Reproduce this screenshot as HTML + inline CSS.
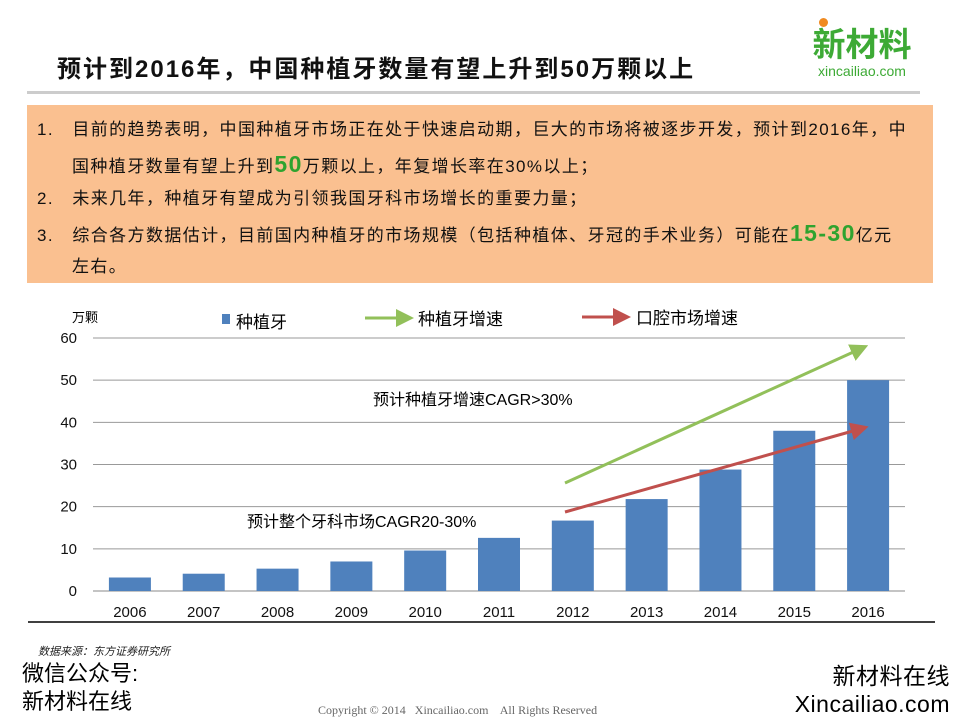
<!DOCTYPE html>
<html><head><meta charset="utf-8"><style>
body{margin:0;width:960px;height:720px;background:#fff;position:relative;overflow:hidden;font-family:"Liberation Sans","Noto Sans CJK SC",sans-serif}
.abs{position:absolute}
#box{left:27px;top:105px;width:906px;height:178px;background:#FAC090;font-size:17px;letter-spacing:1.4px;color:#111;line-height:34px;white-space:nowrap}
#box div{position:absolute;left:10px}
.g{color:#2FA32F;font-weight:bold;font-size:23px}
</style></head><body>
<div class="abs" style="left:57px;top:49px;font-size:24px;letter-spacing:2px;font-weight:bold;color:#111;white-space:nowrap">预计到2016年，中国种植牙数量有望上升到50万颗以上</div>
<div class="abs" style="left:803px;top:18px;width:118px;text-align:center">
<div style="width:9px;height:9px;border-radius:50%;background:#F08A20;margin-left:16px"></div>
<div style="font-size:33px;font-weight:bold;color:#3DAA35;line-height:36px">新材料</div>
<div style="font-size:14px;color:#3DAA35;line-height:16px">xincailiao.com</div></div>
<div class="abs" style="left:27px;top:91px;width:893px;height:3px;background:#ccc"></div>
<div id="box" class="abs">
<div style="top:8px">1.&nbsp;&nbsp; 目前的趋势表明，中国种植牙市场正在处于快速启动期，巨大的市场将被逐步开发，预计到2016年，中</div>
<div style="top:42px;left:45px">国种植牙数量有望上升到<span class="g">50</span>万颗以上，年复增长率在30%以上；</div>
<div style="top:77px">2.&nbsp;&nbsp; 未来几年，种植牙有望成为引领我国牙科市场增长的重要力量；</div>
<div style="top:111px">3.&nbsp;&nbsp; 综合各方数据估计，目前国内种植牙的市场规模（包括种植体、牙冠的手术业务）可能在<span class="g">15-30</span>亿元</div>
<div style="top:145px;left:45px">左右。</div>
</div>
<svg class="abs" style="left:0;top:0" width="960" height="720">
<defs>
<marker id="ag" markerWidth="6" markerHeight="6" refX="3" refY="3" orient="auto"><path d="M0,0L6,3L0,6z" fill="#92C05A"/></marker>
<marker id="ar" markerWidth="6" markerHeight="6" refX="3" refY="3" orient="auto"><path d="M0,0L6,3L0,6z" fill="#C0504D"/></marker>
</defs>
<g id="grid"></g><g id="bars"></g><g id="labels" font-size="15" fill="#111"></g>
<text x="72" y="322" font-size="13">万颗</text>
<rect x="222" y="314" width="8" height="10" fill="#4F81BD"/>
<text x="236" y="328" font-size="17">种植牙</text>
<line x1="365" y1="318" x2="405" y2="318" stroke="#92C05A" stroke-width="3" marker-end="url(#ag)"/>
<text x="418" y="325" font-size="17">种植牙增速</text>
<line x1="582" y1="317" x2="622" y2="317" stroke="#C0504D" stroke-width="3" marker-end="url(#ar)"/>
<text x="636" y="324" font-size="17">口腔市场增速</text>
<line x1="565" y1="483" x2="860" y2="349" stroke="#92C05A" stroke-width="3" marker-end="url(#ag)"/>
<line x1="565" y1="512" x2="860" y2="429" stroke="#C0504D" stroke-width="3" marker-end="url(#ar)"/>
<text x="373" y="405" font-size="16">预计种植牙增速CAGR&gt;30%</text>
<text x="247" y="527" font-size="16">预计整个牙科市场CAGR20-30%</text>
<line x1="28" y1="622" x2="935" y2="622" stroke="#000" stroke-width="1.5"/>
</svg>
<div class="abs" style="left:38px;top:643px;font-size:11px;font-style:italic;color:#222">数据来源：东方证券研究所</div>
<div class="abs" style="left:22px;top:660px;font-size:22px;line-height:28px;color:#000">微信公众号:<br>新材料在线</div>
<div class="abs" style="left:318px;top:703px;font-size:12px;color:#666;font-family:'Liberation Serif',serif">Copyright © 2014&nbsp;&nbsp; Xincailiao.com&nbsp;&nbsp;&nbsp; All Rights Reserved</div>
<div class="abs" style="right:10px;top:662px;font-size:23px;line-height:28px;color:#000;text-align:right;letter-spacing:0.5px">新材料在线<br>Xincailiao.com</div>
<script>
const categories=["2006","2007","2008","2009","2010","2011","2012","2013","2014","2015","2016"];
const values=[3.2,4.1,5.3,7,9.6,12.6,16.7,21.8,28.8,38,50];
const yTicks=[0,10,20,30,40,50,60];
const NS="http://www.w3.org/2000/svg";
const y0=591,y60=338,xL=93,xR=905;
const ys=v=>y0-(y0-y60)*v/60;
const step=(xR-xL)/categories.length;
const xs=i=>xL+step*(i+0.5);
const grid=document.getElementById('grid'),bars=document.getElementById('bars'),lab=document.getElementById('labels');
yTicks.forEach(t=>{
 const l=document.createElementNS(NS,'line');
 l.setAttribute('x1',xL);l.setAttribute('x2',xR);l.setAttribute('y1',ys(t));l.setAttribute('y2',ys(t));
 l.setAttribute('stroke',t===0?'#888':'#999');l.setAttribute('stroke-width','1');
 
 
 grid.appendChild(l);
 const tx=document.createElementNS(NS,'text');
 tx.setAttribute('x',77);tx.setAttribute('y',ys(t)+5);tx.setAttribute('text-anchor','end');tx.textContent=t;
 
 
 lab.appendChild(tx);
});
values.forEach((v,i)=>{
 const r=document.createElementNS(NS,'rect');
 r.setAttribute('x',xs(i)-21);r.setAttribute('width',42);r.setAttribute('y',ys(v));r.setAttribute('height',y0-ys(v));r.setAttribute('fill','#4F81BD');
 
 
 bars.appendChild(r);
 const tx=document.createElementNS(NS,'text');
 tx.setAttribute('x',xs(i));tx.setAttribute('y',617);tx.setAttribute('text-anchor','middle');tx.textContent=categories[i];
 
 
 lab.appendChild(tx);
});
</script>
</body></html>
